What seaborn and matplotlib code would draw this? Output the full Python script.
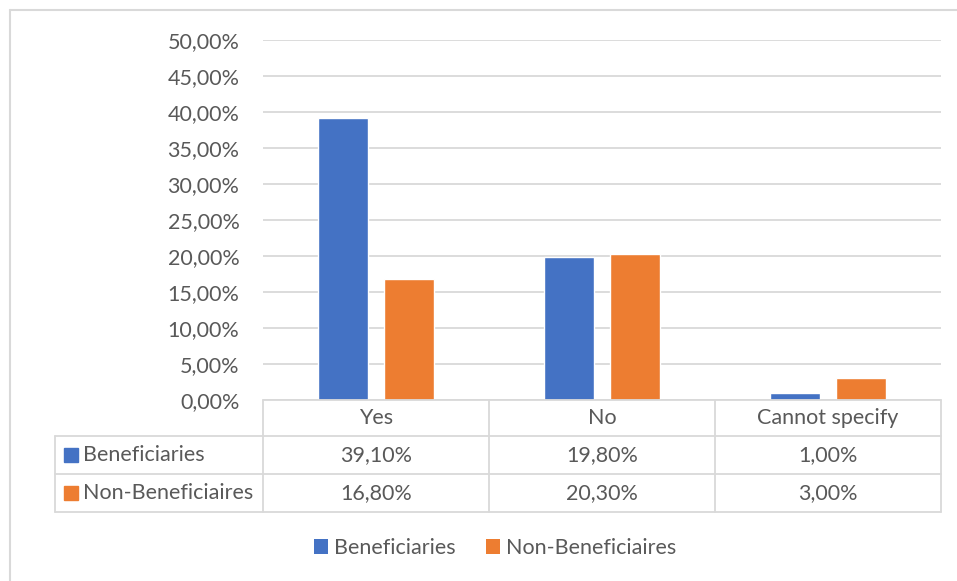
import matplotlib
matplotlib.use("Agg")
import matplotlib.pyplot as plt
from matplotlib.lines import Line2D
from matplotlib.patches import Patch, Rectangle
import pandas as pd
import seaborn as sns

categories = ["Yes", "No", "Cannot specify"]
beneficiaries = [39.10, 19.80, 1.00]
non_beneficiaires = [16.80, 20.30, 3.00]
series_names = ["Beneficiaries", "Non-Beneficiaires"]
colors = ["#4472C4", "#ED7D31"]
y_ticks = [0, 5, 10, 15, 20, 25, 30, 35, 40, 45, 50]

df = pd.DataFrame({
    "category": categories * 2,
    "series": [series_names[0]] * 3 + [series_names[1]] * 3,
    "value": beneficiaries + non_beneficiaires,
})

sns.set_theme(style="white")
plt.rcParams["font.family"] = ["Lato", "DejaVu Sans"]
TEXT = "#595959"
GRID = "#D9D9D9"
FS = 15.5

W, H = 957, 581
fig = plt.figure(figsize=(W / 100, H / 100), dpi=100)


def fx(x):
    return x / W


def fy(y):
    return 1 - y / H


# plot area
ax = fig.add_axes([fx(263), fy(400), fx(941) - fx(263), fy(40) - fy(400)])
sns.barplot(data=df, x="category", y="value", hue="series", order=categories,
            hue_order=series_names, palette=colors, width=0.58, gap=0.238,
            saturation=1, ax=ax, legend=False)
ax.set_ylim(0, 50)
ax.set_xlim(-0.5, len(categories) - 0.5)
ax.set_yticks(y_ticks)
ax.set_yticklabels([f"{v:.2f}".replace(".", ",") + "%" for v in y_ticks],
                   color=TEXT, fontsize=FS)
ax.tick_params(axis="y", length=0, pad=17)
ax.set_xticks([])
ax.set_xlabel("")
ax.set_ylabel("")
for s in ax.spines.values():
    s.set_visible(False)
ax.yaxis.grid(True, color=GRID, linewidth=1.3)
ax.set_axisbelow(True)


def fline(x0, y0, x1, y1, color=GRID, lw=1.3):
    fig.add_artist(Line2D([fx(x0), fx(x1)], [fy(y0), fy(y1)], color=color,
                          linewidth=lw, transform=fig.transFigure))


# outer chart frame
fline(10, 10, 957, 10, lw=1.5)
fline(10, 10, 10, 581, lw=1.5)

# data table grid
col_edges = [263, 489, 715, 941]
row_edges = [400, 436, 474, 512]
fline(263, 400, 941, 400)
for y in row_edges[1:]:
    fline(55, y, 941, y)
for x in col_edges:
    fline(x, 400, x, 512)
fline(55, 436, 55, 512)

# header row
for i, cat in enumerate(categories):
    cx = (col_edges[i] + col_edges[i + 1]) / 2
    fig.text(fx(cx), fy(418), cat, ha="center", va="center", color=TEXT, fontsize=FS)

# value rows with legend keys
for r, (name, vals, c) in enumerate(zip(series_names, [beneficiaries, non_beneficiaires], colors)):
    cy = (row_edges[r + 1] + row_edges[r + 2]) / 2
    fig.add_artist(Rectangle((fx(64), fy(cy + 7)), fx(14), 14 / H, color=c,
                             transform=fig.transFigure))
    fig.text(fx(83), fy(cy), name, ha="left", va="center", color=TEXT, fontsize=FS)
    for i, v in enumerate(vals):
        cx = (col_edges[i] + col_edges[i + 1]) / 2
        fig.text(fx(cx), fy(cy), f"{v:.2f}".replace(".", ",") + "%", ha="center",
                 va="center", color=TEXT, fontsize=FS)

# bottom legend
handles = [Patch(facecolor=c, edgecolor="none") for c in colors]
leg = fig.legend(handles, series_names, loc="center", bbox_to_anchor=(fx(495), fy(548)),
                 ncol=2, frameon=False, fontsize=FS, handlelength=0.65, handleheight=0.65,
                 handletextpad=0.3, columnspacing=1.4)
for t in leg.get_texts():
    t.set_color(TEXT)

fig.savefig("out.png", dpi=100, facecolor="white")
